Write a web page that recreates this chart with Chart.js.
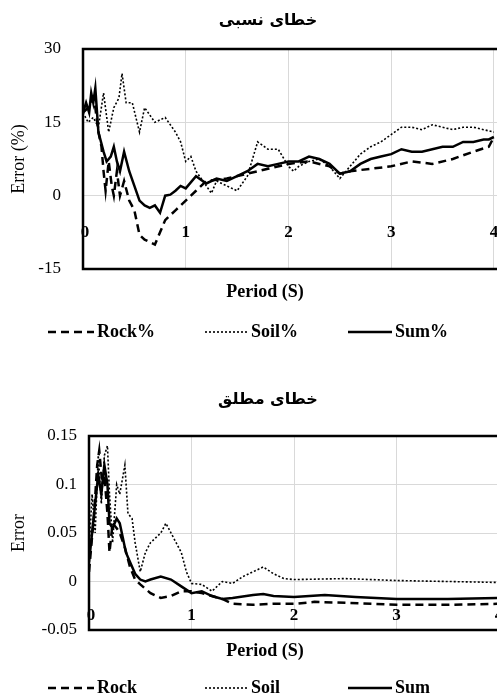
<!DOCTYPE html>
<html>
<head>
<meta charset="utf-8">
<script src="https://cdn.jsdelivr.net/npm/chart.js@4"></script>
<style>
  body { margin: 0; background: #fff; width: 497px; height: 697px; overflow: hidden; }
  .box { position: absolute; left: 0; width: 497px; }
</style>
</head>
<body>
<div class="box" style="top:0;height:360px"><canvas id="c1"></canvas></div>
<div class="box" style="top:370px;height:327px"><canvas id="c2"></canvas></div>
<script>
// ==================== DATA ====================
const relRockX = [0,0.05,0.1,0.12,0.15,0.18,0.2,0.22,0.25,0.28,0.3,0.33,0.36,0.4,0.45,0.5,0.55,0.6,0.65,0.7,0.75,0.8,0.9,1.0,1.1,1.2,1.4,1.6,1.8,2.0,2.2,2.4,2.5,2.6,2.8,3.0,3.2,3.4,3.6,3.8,3.95,4.0];
const relRockY = [17,18,20,18,13,10,5,1,7,2,0,5,0,3,-1,-3,-8,-9,-9.5,-10,-7.5,-5,-3,-1,1,3,3.5,4.5,5.5,6.5,7,6,4.5,5,5.5,6,7,6.5,7.5,9,10,12];
const relSoilX = [0,0.05,0.1,0.15,0.2,0.25,0.3,0.35,0.38,0.42,0.48,0.55,0.6,0.7,0.8,0.9,0.95,1.0,1.05,1.1,1.2,1.25,1.3,1.4,1.5,1.6,1.7,1.8,1.9,2.0,2.05,2.1,2.2,2.3,2.4,2.5,2.6,2.7,2.8,2.9,3.0,3.1,3.2,3.3,3.4,3.5,3.6,3.7,3.8,3.9,4.0];
const relSoilY = [17,15,16,14,21,13,18,20,25,19,19,13,18,15,16,13,11,7,8,5,2,0.5,3,2,1,4,11,9.5,9.5,6,5,6,7,7.5,6,3.5,6,8.5,10,11,12.5,14,14,13.5,14.5,14,13.5,14,14,13.5,13];
const relSumX = [0,0.03,0.06,0.08,0.1,0.12,0.15,0.2,0.23,0.27,0.3,0.33,0.36,0.4,0.45,0.5,0.55,0.6,0.65,0.7,0.75,0.8,0.85,0.9,0.95,1.0,1.1,1.2,1.3,1.4,1.5,1.6,1.7,1.8,1.9,2.0,2.1,2.2,2.3,2.4,2.5,2.6,2.7,2.8,2.9,3.0,3.1,3.2,3.3,3.4,3.5,3.6,3.7,3.8,3.9,3.95,4.0];
const relSumY = [17,19,17,21,19,22,13,9,7,8,10,7,5,9,5,2,-1,-2,-2.5,-2,-3.5,0,0.2,1,2,1.5,4,2.5,3.5,3,4,5,6.5,6,6.5,7,7,8,7.5,6.5,4.5,5,6.5,7.5,8,8.5,9.5,9,9,9.5,10,10,11,11,11.5,11.5,12];

const absRockX = [0,0.05,0.08,0.1,0.13,0.15,0.18,0.2,0.23,0.27,0.3,0.35,0.4,0.45,0.5,0.6,0.7,0.8,0.9,1.0,1.1,1.2,1.3,1.4,1.6,1.8,2.0,2.2,2.5,3.0,3.5,4.0];
const absRockY = [0.01,0.07,0.12,0.135,0.1,0.11,0.07,0.03,0.06,0.055,0.05,0.035,0.015,0.002,-0.003,-0.012,-0.017,-0.015,-0.01,-0.01,-0.012,-0.015,-0.018,-0.023,-0.024,-0.023,-0.023,-0.021,-0.022,-0.024,-0.024,-0.023];
const absSoilX = [0,0.03,0.06,0.09,0.12,0.15,0.18,0.2,0.23,0.27,0.3,0.35,0.38,0.42,0.45,0.5,0.55,0.6,0.7,0.75,0.8,0.85,0.9,0.95,1.0,1.1,1.2,1.3,1.4,1.5,1.6,1.7,1.8,1.9,2.0,2.5,3.0,3.5,4.0];
const absSoilY = [0.03,0.09,0.05,0.13,0.08,0.13,0.14,0.09,0.04,0.1,0.09,0.12,0.07,0.065,0.04,0.01,0.03,0.04,0.05,0.06,0.05,0.04,0.03,0.01,-0.002,-0.003,-0.01,0,-0.002,0.005,0.01,0.015,0.008,0.003,0.002,0.003,0.001,0,-0.001];
const absSumX = [0,0.03,0.06,0.09,0.12,0.15,0.18,0.2,0.23,0.27,0.3,0.33,0.36,0.4,0.45,0.5,0.55,0.6,0.7,0.8,0.9,1.0,1.1,1.2,1.3,1.4,1.6,1.7,1.8,2.0,2.3,2.6,3.0,3.5,4.0];
const absSumY = [0.02,0.05,0.08,0.11,0.09,0.12,0.1,0.06,0.055,0.065,0.06,0.045,0.03,0.02,0.008,0.002,0,0.002,0.005,0.002,-0.005,-0.012,-0.01,-0.015,-0.018,-0.017,-0.014,-0.013,-0.015,-0.016,-0.014,-0.016,-0.018,-0.018,-0.017];

const xTicks = [0, 1, 2, 3, 4];
const relYTicks = [-15, 0, 15, 30];
const absYTicks = [-0.05, 0, 0.05, 0.1, 0.15];

// ==================== HELPERS ====================
const SERIF = "'Liberation Serif', 'DejaVu Serif', serif";
const pts = (xs, ys) => xs.map((x, i) => ({ x, y: ys[i] }));
const styles = {
  rock: { borderDash: [8, 5], borderWidth: 2.5 },
  soil: { borderDash: [2, 2], borderWidth: 1.6 },
  sum: { borderDash: [], borderWidth: 2.5 }
};
function ds(label, data, st) {
  return Object.assign({ label, data, showLine: true, pointRadius: 0, borderColor: "#000", fill: false, tension: 0 }, st);
}

function makeChart(id, cfg) {
  const decor = {
    id: "decor",
    afterDraw(chart) {
      const { ctx, chartArea: a, scales } = chart;
      ctx.save();
      ctx.strokeStyle = "#000";
      ctx.lineWidth = 2.5;
      ctx.strokeRect(a.left, a.top, a.right - a.left + 4, a.bottom - a.top);
      ctx.fillStyle = "#000";
      ctx.font = "bold 17px " + SERIF;
      ctx.textAlign = "center";
      ctx.textBaseline = "middle";
      xTicks.forEach(t => ctx.fillText(String(t), scales.x.getPixelForValue(t) + (t === 0 ? 2 : 0), scales.y.getPixelForValue(cfg.xLabelAt)));
      ctx.font = "bold 16px 'DejaVu Sans', 'Noto Sans', sans-serif";
      ctx.fillText(cfg.title, 268, cfg.titleY);
      ctx.font = "bold 18px " + SERIF;
      ctx.fillText("Period (S)", 265, cfg.periodY);
      // legend
      const ly = cfg.legendY;
      const items = [[cfg.names[0], styles.rock, 48, 94], [cfg.names[1], styles.soil, 205, 248], [cfg.names[2], styles.sum, 348, 392]];
      items.forEach(([name, st, x0, x1]) => {
        ctx.beginPath();
        ctx.setLineDash(st.borderDash);
        ctx.lineWidth = st.borderWidth;
        ctx.moveTo(x0, ly);
        ctx.lineTo(x1, ly);
        ctx.stroke();
        ctx.setLineDash([]);
        ctx.textAlign = "left";
        ctx.fillText(name, x1 + 3, ly);
      });
      ctx.restore();
    }
  };
  return new Chart(document.getElementById(id), {
    type: "scatter",
    data: { datasets: cfg.datasets },
    plugins: [decor],
    options: {
      responsive: true,
      maintainAspectRatio: false,
      animation: false,
      layout: { padding: { left: 8, right: 0, top: cfg.padTop, bottom: cfg.padBottom } },
      plugins: { legend: { display: false }, tooltip: { enabled: false } },
      scales: {
        x: {
          type: "linear", min: 0, max: cfg.xMax,
          afterFit: s => { s.height = 0; },
          afterBuildTicks: s => { s.ticks = xTicks.map(v => ({ value: v })); },
          ticks: { display: false },
          grid: { color: "#d9d9d9", lineWidth: 1, drawTicks: false },
          border: { display: false }
        },
        y: {
          min: cfg.yTicks[0], max: cfg.yTicks[cfg.yTicks.length - 1],
          afterFit: s => { s.width = cfg.left - 8; },
          afterBuildTicks: s => { s.ticks = cfg.yTicks.map(v => ({ value: v })); },
          ticks: { color: "#000", font: { family: SERIF, size: 17 }, padding: cfg.tickPad, callback: v => String(v) },
          grid: { color: "#d9d9d9", lineWidth: 1, drawTicks: false },
          border: { display: false },
          title: { display: true, text: cfg.yTitle, color: "#000", font: { family: SERIF, size: 18 }, padding: 0 }
        }
      }
    }
  });
}

// ==================== CHARTS ====================
makeChart("c1", {
  datasets: [ds("Rock%", pts(relRockX, relRockY), styles.rock), ds("Soil%", pts(relSoilX, relSoilY), styles.soil), ds("Sum%", pts(relSumX, relSumY), styles.sum)],
  names: ["Rock%", "Soil%", "Sum%"],
  yTicks: relYTicks, yTitle: "Error (%)", left: 83, tickPad: 22, xMax: 4.03,
  padTop: 49, padBottom: 91, xLabelAt: -7.5,
  title: "خطای نسبی", titleY: 21, periodY: 292, legendY: 332
});
makeChart("c2", {
  datasets: [ds("Rock", pts(absRockX, absRockY), styles.rock), ds("Soil", pts(absSoilX, absSoilY), styles.soil), ds("Sum", pts(absSumX, absSumY), styles.sum)],
  names: ["Rock", "Soil", "Sum"],
  yTicks: absYTicks, yTitle: "Error", left: 89, tickPad: 12, xMax: 3.98,
  padTop: 66, padBottom: 67, xLabelAt: -0.035,
  title: "خطای مطلق", titleY: 30, periodY: 281, legendY: 318
});
</script>
</body>
</html>
